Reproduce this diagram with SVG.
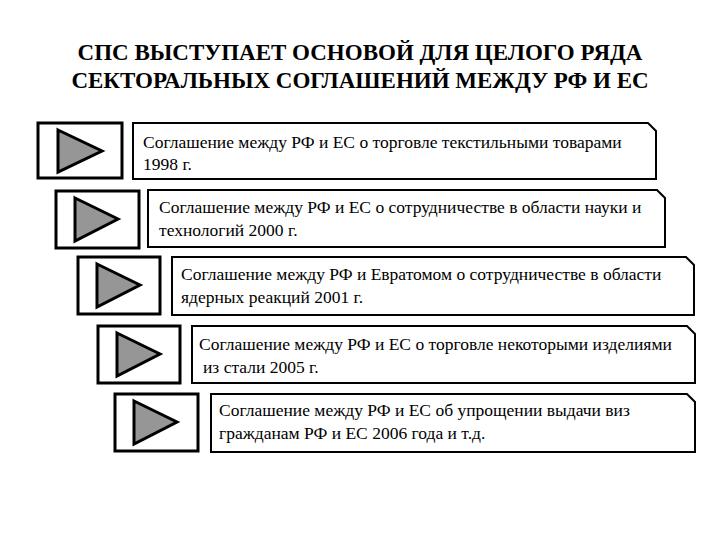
<svg xmlns="http://www.w3.org/2000/svg" width="720" height="540" viewBox="0 0 720 540">
<style>
.sq{fill:#fff;stroke:#000;stroke-width:3}
.tr{fill:#969696;stroke:#000;stroke-width:3;stroke-linejoin:miter}
.bx{fill:#fff;stroke:#000;stroke-width:2}
.t{font-family:'Liberation Serif','Times New Roman','DejaVu Serif',serif;font-size:17.5px;fill:#000}
.h{font-family:'Liberation Serif','Times New Roman','DejaVu Serif',serif;font-size:23px;font-weight:bold;fill:#000}
</style>
<rect width="720" height="540" fill="#fff"/>
<g id="title">
<text class="h" x="360" y="60" text-anchor="middle">СПС ВЫСТУПАЕТ ОСНОВОЙ ДЛЯ ЦЕЛОГО РЯДА</text>
<text class="h" x="360" y="88" text-anchor="middle">СЕКТОРАЛЬНЫХ СОГЛАШЕНИЙ МЕЖДУ РФ И ЕС</text>
</g>
<g id="n1">
<rect class="sq" x="38" y="123" width="84" height="55"/>
<polygon class="tr" points="58,130 102,151 58,172"/>
<path class="bx" d="M133,123 H648 L656,131 V179 H133 Z"/>
<text class="t" x="143" y="148">Соглашение между РФ и ЕС  о торговле текстильными товарами</text>
<text class="t" x="143" y="170">1998 г.</text>
</g>
<g id="n2">
<rect class="sq" x="56" y="191" width="83" height="57"/>
<polygon class="tr" points="75,198 118,219 75,241"/>
<path class="bx" d="M148,190 H657 L665,198 V247 H148 Z"/>
<text class="t" x="159" y="213">Соглашение между РФ и ЕС о сотрудничестве в области науки и</text>
<text class="t" x="159" y="236">технологий 2000 г.</text>
</g>
<g id="n3">
<rect class="sq" x="78" y="257" width="82" height="57"/>
<polygon class="tr" points="97,264 140,285 97,307"/>
<path class="bx" d="M172,257 H686 L694,265 V315 H172 Z"/>
<text class="t" x="181" y="280">Соглашение между РФ и Евратомом о сотрудничестве в области</text>
<text class="t" x="181" y="303">ядерных реакций 2001 г.</text>
</g>
<g id="n4">
<rect class="sq" x="98" y="326" width="82" height="57"/>
<polygon class="tr" points="117,333 160,354 117,376"/>
<path class="bx" d="M192,326 H687 L695,334 V383 H192 Z"/>
<text class="t" x="199" y="350">Соглашение между РФ и ЕС о торговле некоторыми изделиями</text>
<text class="t" x="203" y="373">из стали 2005 г.</text>
</g>
<g id="n5">
<rect class="sq" x="115" y="394" width="83" height="57"/>
<polygon class="tr" points="134,401 177,422 134,444"/>
<path class="bx" d="M211,394 H687 L695,402 V452 H211 Z"/>
<text class="t" x="219" y="416">Соглашение между РФ и ЕС об упрощении выдачи виз</text>
<text class="t" x="219" y="439">гражданам РФ и ЕС 2006 года и т.д.</text>
</g>
<g id="connectors"/>
</svg>
